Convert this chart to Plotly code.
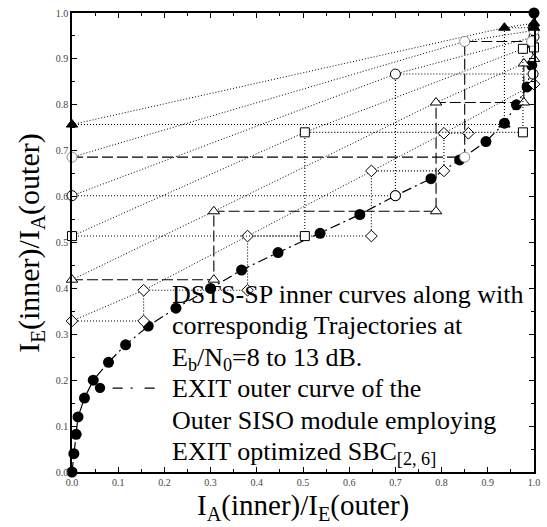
import plotly.graph_objects as go

FONT = "Liberation Serif"

# EXIT curve of the outer SISO module (SBC[2,6]), axes swapped
outer_x = [0.0, 0.004, 0.009, 0.013, 0.027, 0.046, 0.079, 0.116, 0.165, 0.225, 0.300, 0.367,
           0.446, 0.537, 0.623, 0.700, 0.777, 0.839, 0.896, 0.936, 0.962, 0.985, 0.995, 0.998,
           0.999, 1.0]
outer_y = [0.0, 0.040, 0.082, 0.120, 0.161, 0.200, 0.239, 0.277, 0.318, 0.357, 0.400, 0.440,
           0.478, 0.520, 0.561, 0.602, 0.639, 0.680, 0.720, 0.760, 0.800, 0.839, 0.886, 0.930,
           0.968, 1.0]

# DSTS-SP inner EXIT curves, Eb/N0 = 8 ... 13 dB
ebn0_db = [8, 9, 10, 11, 12, 13]
inner8_x = [0.0, 0.155, 0.380, 0.648, 0.805, 1.0]
inner8_y = [0.329, 0.396, 0.514, 0.656, 0.738, 0.845]
inner9_x = [0.0, 0.307, 0.788, 0.977, 1.0]
inner9_y = [0.419, 0.568, 0.805, 0.890, 0.900]
inner10_x = [0.0, 0.504, 0.976, 1.0]
inner10_y = [0.514, 0.740, 0.922, 0.925]
inner11_x = [0.0, 0.700, 1.0]
inner11_y = [0.602, 0.867, 0.948]
inner12_x = [0.0, 0.850, 1.0]
inner12_y = [0.686, 0.938, 0.962]
inner13_x = [0.0, 0.936, 1.0]
inner13_y = [0.757, 0.968, 0.978]

# decoding trajectories
traj8_x = [0.0, 0.155, 0.155, 0.380, 0.380, 0.648, 0.648, 0.805, 0.805, 0.858]
traj8_y = [0.329, 0.329, 0.396, 0.396, 0.514, 0.514, 0.656, 0.656, 0.738, 0.738]
traj9_x = [0.0, 0.307, 0.307, 0.788, 0.788, 0.978, 0.978]
traj9_y = [0.419, 0.419, 0.568, 0.568, 0.805, 0.805, 0.890]
traj10_x = [0.0, 0.504, 0.504, 0.976, 0.976]
traj10_y = [0.514, 0.514, 0.740, 0.740, 0.922]
traj11_x = [0.0, 0.700, 0.700, 0.998]
traj11_y = [0.602, 0.602, 0.867, 0.867]
traj12_x = [0.0, 0.850, 0.850, 0.995]
traj12_y = [0.686, 0.686, 0.938, 0.938]
traj13_x = [0.0, 0.936, 0.936, 1.0]
traj13_y = [0.757, 0.757, 0.968, 0.968]

inner_x = [inner8_x, inner9_x, inner10_x, inner11_x, inner12_x, inner13_x]
inner_y = [inner8_y, inner9_y, inner10_y, inner11_y, inner12_y, inner13_y]
traj_x = [traj8_x, traj9_x, traj10_x, traj11_x, traj12_x, traj13_x]
traj_y = [traj8_y, traj9_y, traj10_y, traj11_y, traj12_y, traj13_y]

symbols = ["diamond", "triangle-up", "square", "circle", "circle", "triangle-up"]
fills = ["white", "white", "white", "white", "white", "black"]
edges = ["black", "black", "black", "black", "#8c8c8c", "black"]
sizes = [9, 10, 9, 10, 10, 10]
traj_dash = ["1px,2px", "11px,4px", "1px,2px", "1px,2px", "11px,4px", "1px,2px"]

DOT = "1px,2px"

legend_lines = [
    "DSTS-SP inner curves along with",
    "correspondig Trajectories at",
    "E<sub>b</sub>/N<sub>0</sub>=8 to 13 dB.",
    "EXIT outer curve of the",
    "Outer SISO module employing",
    "EXIT optimized SBC<sub>[2, 6]</sub>",
]

fig = go.Figure()

# inner curves (dotted)
for k in range(len(ebn0_db)):
    fig.add_trace(go.Scatter(
        x=inner_x[k], y=inner_y[k], mode="lines",
        line=dict(color="black", width=1, dash=DOT),
        showlegend=False, hoverinfo="skip", cliponaxis=False))

# outer curve
fig.add_trace(go.Scatter(
    x=outer_x, y=outer_y, mode="lines+markers",
    line=dict(color="black", width=1.2, dash="10px,4px,2px,4px"),
    marker=dict(symbol="circle", size=11, color="black"),
    showlegend=False, cliponaxis=False))

# trajectories with their markers, plus the end point of each inner curve
for k in range(len(ebn0_db)):
    fig.add_trace(go.Scatter(
        x=traj_x[k], y=traj_y[k], mode="lines+markers",
        line=dict(color="black", width=1.1, dash=traj_dash[k]),
        marker=dict(symbol=symbols[k], size=sizes[k], color=fills[k],
                    line=dict(color=edges[k], width=1)),
        showlegend=False, cliponaxis=False))
    fig.add_trace(go.Scatter(
        x=[inner_x[k][-1]], y=[inner_y[k][-1]], mode="markers",
        marker=dict(symbol=symbols[k], size=sizes[k], color=fills[k],
                    line=dict(color=edges[k], width=1)),
        showlegend=False, cliponaxis=False))

# plot area in pixels: x 72..538, y 7..472
W, H = 547, 527
L, R, T, B = 72, 9, 7, 55
pw, ph = W - L - R, H - T - B


def px(xp):
    return (xp - L) / pw


def py(yp):
    return (H - B - yp) / ph


annotations = []
cap_tops = [283, 315, 347, 379, 411, 443]
for text, ct in zip(legend_lines, cap_tops):
    annotations.append(dict(
        x=px(172), y=py(ct - 7), xref="paper", yref="paper",
        xanchor="left", yanchor="top", text=text, showarrow=False,
        font=dict(family=FONT, size=26, color="black"), align="left", borderpad=0))

annotations.append(dict(
    x=0.5, y=py(507), xref="paper", yref="paper", xanchor="center", yanchor="middle",
    text="I<sub>A</sub>(inner)/I<sub>E</sub>(outer)", showarrow=False, borderpad=0,
    font=dict(family=FONT, size=29, color="black")))
annotations.append(dict(
    x=px(30), y=0.5, xref="paper", yref="paper", xanchor="center", yanchor="middle",
    text="I<sub>E</sub>(inner)/I<sub>A</sub>(outer)", showarrow=False, textangle=-90,
    font=dict(family=FONT, size=30, color="black")))

# legend key for the outer curve
shapes = [
    dict(type="line", xref="paper", yref="paper", x0=px(113), x1=px(158),
         y0=py(387), y1=py(387), line=dict(color="black", width=1.2, dash="10px,8px,2px,12px")),
    dict(type="circle", xref="paper", yref="paper", x0=px(95), x1=px(105.5),
         y0=py(392), y1=py(381.5), fillcolor="black", line=dict(color="black", width=0)),
]

axis_common = dict(
    range=[0, 1], dtick=0.1, tick0=0, tickformat=".1f",
    showline=True, linecolor="black", linewidth=1.5, mirror="ticks",
    ticks="inside", ticklen=5, tickwidth=1, tickcolor="black",
    minor=dict(ticks="inside", ticklen=3, dtick=0.05, tickcolor="black", tickwidth=1),
    showgrid=False, zeroline=False,
    tickfont=dict(family=FONT, size=10, color="#444444"),
)

fig.update_layout(
    width=W, height=H,
    margin=dict(l=L, r=R, t=T, b=B),
    paper_bgcolor="white", plot_bgcolor="white",
    xaxis=axis_common, yaxis=axis_common,
    annotations=annotations, shapes=shapes,
    showlegend=False,
)

fig.write_html("out.html")
